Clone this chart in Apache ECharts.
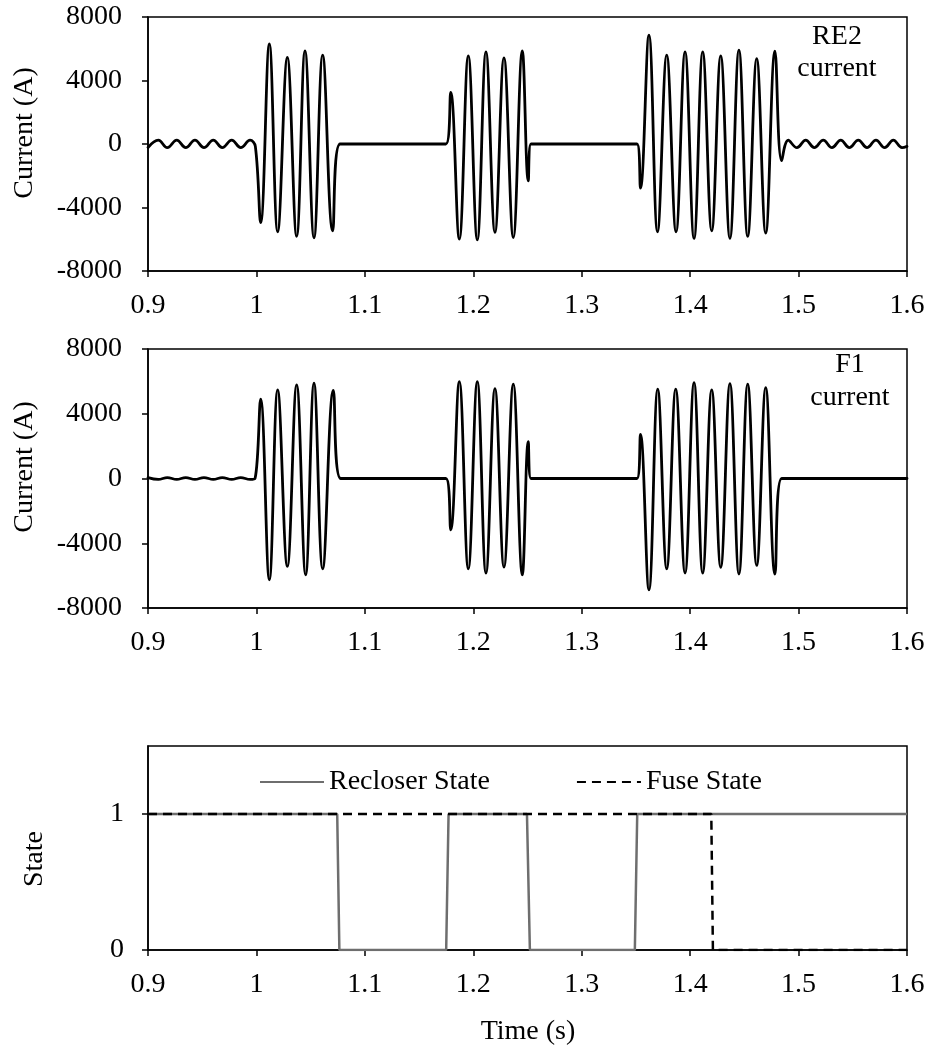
<!DOCTYPE html>
<html>
<head>
<meta charset="utf-8">
<script src="https://cdn.jsdelivr.net/npm/echarts@6/dist/echarts.min.js"></script>
<style>html,body{margin:0;padding:0;background:#fff}#c{width:931px;height:1059px}</style>
</head>
<body>
<div id="c"></div>
<script>
// ---- Data ----
const timeTicks = [0.9, 1, 1.1, 1.2, 1.3, 1.4, 1.5, 1.6];
const currentTicks = [-8000, -4000, 0, 4000, 8000];
const stateTicks = [0, 1];

// RE2 current (A): extremes / turning points of the trace
const re2Time = [
  0.9000, 0.9095, 0.9178, 0.9265, 0.9348, 0.9433, 0.9516, 0.9602, 0.9685, 0.9772, 0.9855, 0.9941, 0.9990,
  1.0039, 1.0119, 1.0196, 1.0285, 1.0371, 1.0448, 1.0531, 1.0611, 1.0703, 1.0771,
  1.1748, 1.1792, 1.1871, 1.1954, 1.2037, 1.2117, 1.2200, 1.2283, 1.2369, 1.2452, 1.2507, 1.2532,
  1.3510, 1.3542, 1.3620, 1.3699, 1.3784, 1.3870, 1.3953, 1.4036, 1.4116, 1.4199, 1.4282, 1.4367, 1.4450, 1.4531, 1.4614, 1.4697, 1.4782, 1.4844,
  1.4905, 1.4985, 1.5066, 1.5145, 1.5228, 1.5308, 1.5389, 1.5468, 1.5551, 1.5631, 1.5714, 1.5794, 1.5874, 1.5954, 1.6000
];
const re2Current = [
  -220, 240, -230, 240, -230, 240, -230, 240, -230, 240, -230, 240, -150,
  -4950, 6300, -5530, 5450, -5820, 5870, -5910, 5600, -5470, 0,
  0, 3250, -5990, 5550, -6040, 5800, -5570, 5430, -5890, 5870, -2320, 0,
  0, -2780, 6860, -5530, 5600, -5530, 5800, -5950, 5800, -5470, 5550, -5950, 5910, -5820, 5380, -5620, 5850, -1050,
  240, -230, 240, -230, 240, -230, 240, -230, 240, -230, 240, -230, 240, -230, -150
];

// F1 current (A)
const f1Time = [
  0.9000, 0.9095, 0.9178, 0.9265, 0.9348, 0.9433, 0.9516, 0.9602, 0.9685, 0.9772, 0.9855, 0.9941, 0.9987,
  1.0039, 1.0119, 1.0196, 1.0285, 1.0371, 1.0454, 1.0531, 1.0611, 1.0709, 1.0777,
  1.1748, 1.1792, 1.1871, 1.1954, 1.2037, 1.2117, 1.2200, 1.2283, 1.2369, 1.2452, 1.2507, 1.2532,
  1.3510, 1.3542, 1.3620, 1.3701, 1.3784, 1.3867, 1.3953, 1.4036, 1.4116, 1.4199, 1.4282, 1.4367, 1.4450, 1.4531, 1.4614, 1.4697, 1.4782, 1.4844, 1.6000
];
const f1Current = [
  50, -60, 60, -60, 60, -60, 60, -60, 60, -60, 60, -60, 0,
  4900, -6260, 5470, -5430, 5780, -5950, 5890, -5580, 5450, 0,
  0, -3170, 5990, -5580, 5990, -5840, 5550, -5470, 5830, -5950, 2280, 0,
  0, 2730, -6880, 5520, -5580, 5520, -5840, 5920, -5840, 5470, -5490, 5860, -5900, 5830, -5370, 5620, -5900, 0, 0
];

// States
const recloserTime  = [0.9, 1.0745, 1.0765, 1.1750, 1.1772, 1.2495, 1.2522, 1.3490, 1.3512, 1.6];
const recloserState = [1,   1,      0,      0,      1,      1,      0,      0,      1,      1];
const fuseTime  = [0.9, 1.4195, 1.4210, 1.6];
const fuseState = [1,   1,      0,      0];

// ---- Chart ----
const FONT = 'Liberation Serif';
const pairs = (xs, ys) => xs.map((x, i) => [x, ys[i]]);
const fmtTime = v => String(Math.round(v * 10) / 10);

function xAxis(gi) {
  return {
    gridIndex: gi, type: 'value', min: 0.9, max: 1.6, interval: 0.1,
    axisLine: { onZero: false, lineStyle: { color: '#000', width: 1.5 } },
    axisTick: { inside: false, length: 6, lineStyle: { color: '#000', width: 1.5 } },
    axisLabel: { formatter: fmtTime, fontFamily: FONT, fontSize: 28, color: '#000', margin: 21 },
    splitLine: { show: false }
  };
}
function yCurrent(gi) {
  return {
    gridIndex: gi, type: 'value', min: -8000, max: 8000, interval: 4000,
    axisLine: { show: true, onZero: false, lineStyle: { color: '#000', width: 1.5 } },
    axisTick: { show: true, inside: false, length: 6, lineStyle: { color: '#000', width: 1.5 } },
    axisLabel: { fontFamily: FONT, fontSize: 28, color: '#000', margin: 26, formatter: v => String(v) },
    splitLine: { show: false }
  };
}
const gridBase = { left: 148, width: 759, show: true, borderColor: '#000', borderWidth: 1.5,
  containLabel: false, outerBoundsMode: 'none' };

const waveStyle = { color: '#000', width: 2.8, join: 'round', cap: 'round' };

const option = {
  animation: false,
  backgroundColor: '#fff',
  grid: [
    Object.assign({ top: 17, height: 254 }, gridBase),
    Object.assign({ top: 349, height: 259 }, gridBase),
    Object.assign({ top: 746, height: 204 }, gridBase)
  ],
  xAxis: [xAxis(0), xAxis(1), xAxis(2)],
  yAxis: [
    yCurrent(0), yCurrent(1),
    {
      gridIndex: 2, type: 'value', min: 0, max: 1.5, interval: 1,
      axisLine: { show: true, onZero: false, lineStyle: { color: '#000', width: 1.5 } },
      axisTick: { show: true, inside: false, length: 6, customValues: stateTicks, lineStyle: { color: '#000', width: 1.5 } },
      axisLabel: { fontFamily: FONT, fontSize: 28, color: '#000', margin: 24, customValues: stateTicks,
        formatter: v => (v === 0 || v === 1) ? String(v) : '' },
      splitLine: { show: false }
    }
  ],
  legend: {
    left: 254, top: 763, itemWidth: 64, itemHeight: 14, itemGap: 86,
    itemStyle: { opacity: 0 },
    textStyle: { fontFamily: FONT, fontSize: 28, color: '#000' },
    data: ['Recloser State', 'Fuse State']
  },
  series: [
    { name: 'RE2 current', type: 'line', xAxisIndex: 0, yAxisIndex: 0, data: pairs(re2Time, re2Current),
      smooth: 0.4, showSymbol: false, symbol: 'none', lineStyle: waveStyle },
    { name: 'F1 current', type: 'line', xAxisIndex: 1, yAxisIndex: 1, data: pairs(f1Time, f1Current),
      smooth: 0.4, showSymbol: false, symbol: 'none', lineStyle: waveStyle },
    { name: 'Recloser State', type: 'line', xAxisIndex: 2, yAxisIndex: 2, data: pairs(recloserTime, recloserState),
      showSymbol: false, symbol: 'none', itemStyle: { color: '#6e6e6e' },
      lineStyle: { color: '#6e6e6e', width: 2.5 } },
    { name: 'Fuse State', type: 'line', xAxisIndex: 2, yAxisIndex: 2, data: pairs(fuseTime, fuseState),
      showSymbol: false, symbol: 'none', itemStyle: { color: '#000' },
      lineStyle: { color: '#000', width: 2.5, type: [9, 6] } }
  ],
  graphic: [
    { type: 'text', x: 25, y: 133, rotation: Math.PI / 2,
      style: { text: 'Current (A)', fontFamily: FONT, fontSize: 28, fill: '#000', align: 'center', verticalAlign: 'middle' } },
    { type: 'text', x: 25, y: 467, rotation: Math.PI / 2,
      style: { text: 'Current (A)', fontFamily: FONT, fontSize: 28, fill: '#000', align: 'center', verticalAlign: 'middle' } },
    { type: 'text', x: 35, y: 859, rotation: Math.PI / 2,
      style: { text: 'State', fontFamily: FONT, fontSize: 28, fill: '#000', align: 'center', verticalAlign: 'middle' } },
    { type: 'text', x: 528, y: 1032,
      style: { text: 'Time (s)', fontFamily: FONT, fontSize: 28, fill: '#000', align: 'center', verticalAlign: 'middle' } },
    { type: 'text', x: 837, y: 37,
      style: { text: 'RE2', fontFamily: FONT, fontSize: 28, fill: '#000', align: 'center', verticalAlign: 'middle' } },
    { type: 'text', x: 837, y: 69,
      style: { text: 'current', fontFamily: FONT, fontSize: 28, fill: '#000', align: 'center', verticalAlign: 'middle' } },
    { type: 'text', x: 850, y: 365,
      style: { text: 'F1', fontFamily: FONT, fontSize: 28, fill: '#000', align: 'center', verticalAlign: 'middle' } },
    { type: 'text', x: 850, y: 398,
      style: { text: 'current', fontFamily: FONT, fontSize: 28, fill: '#000', align: 'center', verticalAlign: 'middle' } }
  ]
};

const chart = echarts.init(document.getElementById('c'), null, { renderer: 'canvas' });
chart.setOption(option);
</script>
</body>
</html>
